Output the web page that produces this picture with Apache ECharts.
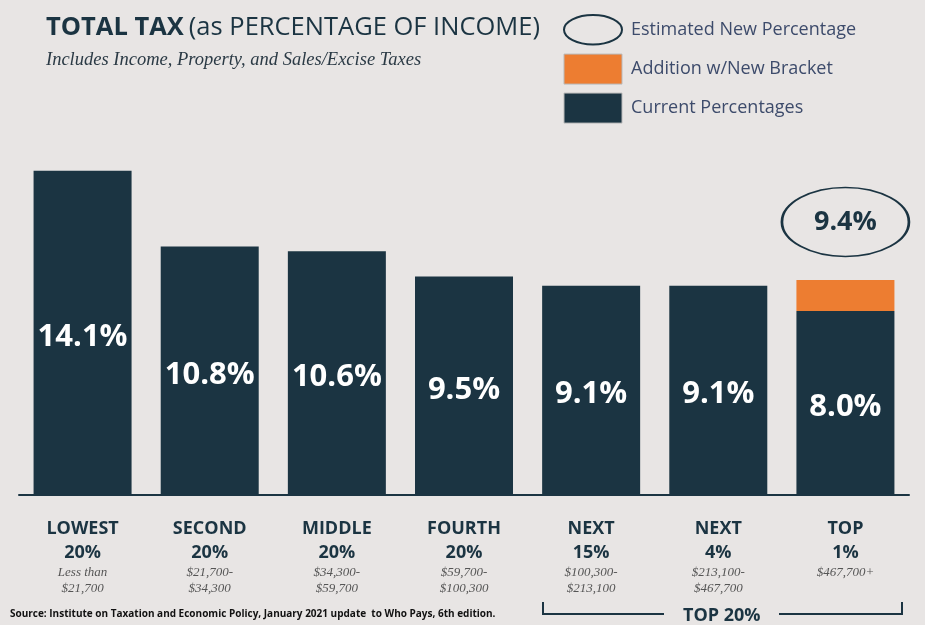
<!DOCTYPE html>
<html>
<head>
<meta charset="utf-8">
<script src="https://cdn.jsdelivr.net/npm/echarts@6/dist/echarts.min.js"></script>
<style>
  html, body { margin: 0; padding: 0; background: #e8e5e4; }
  #chart { width: 925px; height: 625px; }
</style>
</head>
<body>
<div id="chart"></div>
<script>
// data
var groupNames = ['LOWEST', 'SECOND', 'MIDDLE', 'FOURTH', 'NEXT', 'NEXT', 'TOP'];
var groupShares = ['20%', '20%', '20%', '20%', '15%', '4%', '1%'];
var incomeRanges = ['Less than\n$21,700', '$21,700-\n$34,300', '$34,300-\n$59,700', '$59,700-\n$100,300',
                    '$100,300-\n$213,100', '$213,100-\n$467,700', '$467,700+'];
var currentPct = [14.1, 10.8, 10.6, 9.5, 9.1, 9.1, 8.0];
var additionPct = [null, null, null, null, null, null, 1.35];
var estimatedPct = [null, null, null, null, null, null, 9.4];

var navy = '#1b3442';
var orange = '#ed7d31';
// 2:1 ellipse, so it keeps its shape where the icon keeps aspect
var ellipsePath = 'path://M100,0 C155,0 200,23 200,51 C200,79 155,102 100,102 C45,102 0,79 0,51 C0,23 45,0 100,0 Z';

var categories = groupNames.map(function(n, i) { return n + '|' + i; });

var chart = echarts.init(document.getElementById('chart'));
chart.setOption({
  backgroundColor: '#e8e5e4',
  animation: false,
  title: [{
    left: 46, top: 15, padding: 0,
    text: '{b|TOTAL TAX} {n|(as PERCENTAGE OF INCOME)}',
    textStyle: {
      rich: {
        b: { fontFamily: 'Open Sans', fontWeight: 'bold', fontSize: 25.5, color: navy },
        n: { fontFamily: 'Open Sans', fontWeight: 'normal', fontSize: 25.5, color: navy }
      }
    }
  }, {
    left: 46, top: 51, padding: 0,
    text: 'Includes Income, Property, and Sales/Excise Taxes',
    textStyle: { fontFamily: 'Liberation Serif', fontStyle: 'italic', fontWeight: 'normal', fontSize: 18.5, color: '#2b3a45' }
  }, {
    left: 10, top: 609, padding: 0,
    text: 'Source: Institute on Taxation and Economic Policy, January 2021 update  to Who Pays, 6th edition.',
    textStyle: { fontFamily: 'Open Sans', fontWeight: 'bold', fontSize: 10, color: '#111' }
  }],
  legend: {
    orient: 'vertical', left: 563, top: 14, padding: 0,
    itemWidth: 58, itemHeight: 30, itemGap: 8,
    textStyle: { fontFamily: 'Open Sans', fontSize: 18, color: '#3d4b6b', padding: [0, 0, 0, 4] },
    data: [
      { name: 'Estimated New Percentage', icon: ellipsePath,
        itemStyle: { color: 'transparent', borderColor: navy, borderWidth: 2, opacity: 1 } },
      { name: 'Addition w/New Bracket', icon: 'rect',
        itemStyle: { color: orange, borderColor: '#b9b9b9', borderWidth: 1 } },
      { name: 'Current Percentages', icon: 'rect',
        itemStyle: { color: navy, borderColor: '#b9b9b9', borderWidth: 1 } }
    ]
  },
  grid: { left: 19, right: 16, top: 35, bottom: 130 },
  xAxis: {
    type: 'category',
    data: categories,
    axisLine: { lineStyle: { color: navy, width: 2 } },
    axisTick: { show: false },
    axisLabel: {
      interval: 0, margin: 22,
      formatter: function(v) {
        var i = +v.split('|')[1];
        return '{h|' + groupNames[i] + '}\n{h|' + groupShares[i] + '}\n{s|' +
          incomeRanges[i].split('\n').join('}\n{s|') + '}';
      },
      rich: {
        h: { fontFamily: 'Open Sans', fontWeight: 'bold', fontSize: 18, color: navy, lineHeight: 24 },
        s: { fontFamily: 'Liberation Serif', fontStyle: 'italic', fontSize: 13, color: '#555', lineHeight: 16 }
      }
    }
  },
  yAxis: { type: 'value', min: 0, max: 20, show: false, splitLine: { show: false } },
  series: [{
    name: 'Current Percentages', type: 'bar', stack: 'tax', barWidth: 98,
    data: currentPct,
    itemStyle: { color: navy },
    label: {
      show: true, position: 'inside', offset: [0, 4],
      formatter: function(p) { return p.value.toFixed(1) + '%'; },
      fontFamily: 'Open Sans', fontWeight: 'bold', fontSize: 31, color: '#fff'
    }
  }, {
    name: 'Addition w/New Bracket', type: 'bar', stack: 'tax', barWidth: 98,
    data: additionPct,
    itemStyle: { color: orange }
  }, {
    name: 'Estimated New Percentage', type: 'scatter',
    data: estimatedPct.map(function(v, i) { return v == null ? null : [categories[i], currentPct[i] + additionPct[i]]; }),
    symbol: ellipsePath, symbolKeepAspect: false, symbolSize: [127, 69], symbolOffset: [0, -58],
    itemStyle: { color: 'transparent', borderColor: navy, borderWidth: 2, opacity: 1 },
    label: {
      show: true, position: 'inside',
      formatter: function(p) { return estimatedPct[p.dataIndex].toFixed(1) + '%'; },
      fontFamily: 'Open Sans', fontWeight: 'bold', fontSize: 27, color: navy
    }
  }],
  graphic: [{
    type: 'polyline',
    shape: { points: [[543, 602], [543, 614], [664, 614]] },
    style: { stroke: navy, lineWidth: 2, fill: null }
  }, {
    type: 'polyline',
    shape: { points: [[779, 614], [902, 614], [902, 602]] },
    style: { stroke: navy, lineWidth: 2, fill: null }
  }, {
    type: 'text', left: 683, top: 607,
    style: { text: 'TOP 20%', fontFamily: 'Open Sans', fontWeight: 'bold', fontSize: 18, fill: navy }
  }]
});
</script>
</body>
</html>
